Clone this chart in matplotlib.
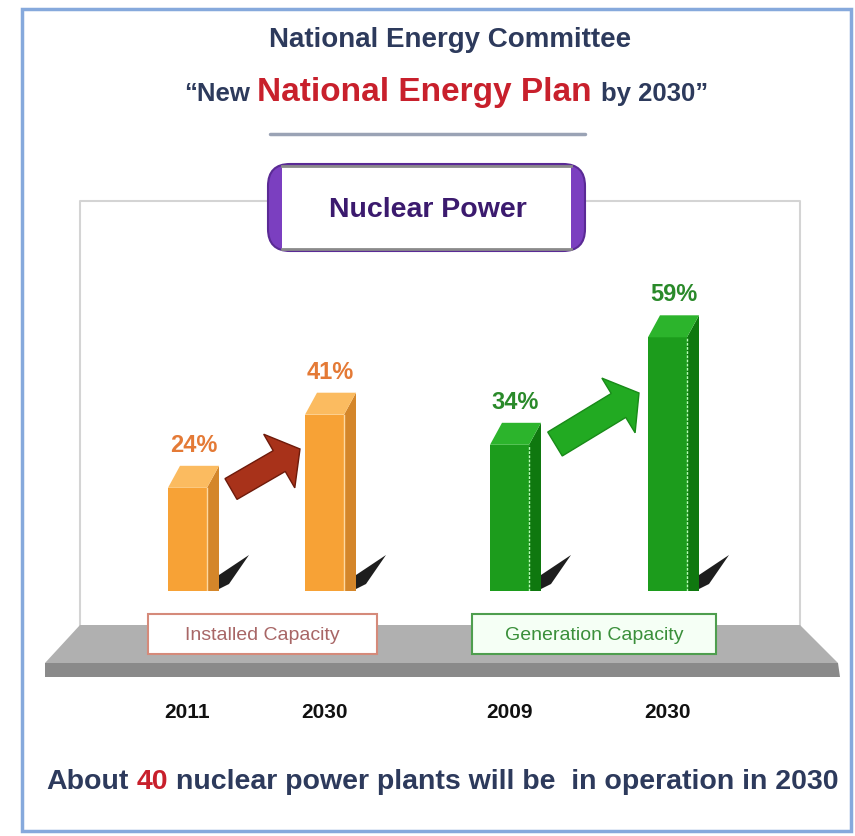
import matplotlib.pyplot as plt
from matplotlib.patches import Polygon, Rectangle, FancyBboxPatch, FancyArrow
from matplotlib import font_manager

# ---- data ----
title_top = 'National Energy Committee'
title_parts = ['\u201cNew', 'National Energy Plan', 'by 2030\u201d']
panel_title = 'Nuclear Power'
groups = ['Installed Capacity', 'Generation Capacity']
years = ['2011', '2030', '2009', '2030']
shares = [24, 41, 34, 59]
footer_parts = ['About', '40', 'nuclear power plants will be  in operation in 2030']

W, H = 855, 837
names = {f.name for f in font_manager.fontManager.ttflist}
FONT = [f for f in ['Liberation Sans Narrow', 'Liberation Sans', 'DejaVu Sans'] if f in names]

NAVY = '#2d3a5c'
RED = '#c8202c'

fig = plt.figure(figsize=(W / 100, H / 100), dpi=100)
bg = fig.add_axes([0, 0, 1, 1])
bg.set_xlim(0, W)
bg.set_ylim(H, 0)
bg.axis('off')
renderer = fig.canvas.get_renderer()


def text_width(s, size):
    a = bg.text(0, 0, '|' + s + '|', fontsize=size, fontweight='bold', family=FONT)
    b = bg.text(0, 0, '||', fontsize=size, fontweight='bold', family=FONT)
    w = a.get_window_extent(renderer).width - b.get_window_extent(renderer).width
    a.remove()
    b.remove()
    return w


def line_of_parts(parts, colors, sizes, cx, y, gap=' '):
    # several coloured pieces on one baseline, centred on cx
    widths = [text_width(p, s) for p, s in zip(parts, sizes)]
    spaces = [text_width(gap, s) for s in sizes]
    total = sum(widths) + sum(spaces[:-1])
    x = cx - total / 2
    for p, c, s, w, sp in zip(parts, colors, sizes, widths, spaces):
        bg.text(x, y, p, color=c, fontsize=s, fontweight='bold', family=FONT,
                ha='left', va='baseline')
        x += w + sp


# outer frame
bg.add_patch(Rectangle((22, 10), 829, 822, fill=False, ec='#86a9dc', lw=2.5))

# titles
bg.text(450, 47, title_top, color=NAVY, fontsize=20, fontweight='bold',
        family=FONT, ha='center', va='baseline')
line_of_parts(title_parts, [NAVY, RED, NAVY], [18.5, 24, 18.5], 446, 101)
bg.plot([270, 585], [135, 135], color='#9aa3b5', lw=2.5, solid_capstyle='round')

# panel and platform
bg.plot([80, 80, 800, 800], [626, 202, 202, 626], color='#d4d4d4', lw=1.5, zorder=1)
bg.add_patch(Polygon([(80, 626), (800, 626), (838, 664), (45, 664)],
                     closed=True, fc='#b0b0b0', ec='none'))
bg.add_patch(Polygon([(45, 664), (838, 664), (840, 678), (45, 678)],
                     closed=True, fc='#8a8a8a', ec='none'))

# pill with the panel title
bg.add_patch(FancyBboxPatch((268, 165), 317, 87, boxstyle='round,pad=0,rounding_size=22',
                            fc='#7b3fc0', ec='#5a2a95', lw=1.5, zorder=3))
bg.add_patch(Rectangle((282, 167), 289, 83, fc='white', ec='none', zorder=3))
bg.plot([282, 571], [167, 167], color='#8a8a8a', lw=2, zorder=4)
bg.plot([282, 571], [250, 250], color='#8a8a8a', lw=2, zorder=4)
bg.text(428, 210, panel_title, color='#3b1a6e', fontsize=20.5, fontweight='bold',
        family=FONT, ha='center', va='center', zorder=5)

# group label boxes
box_x = [(148, 377), (472, 716)]
box_ec = ['#d58a7a', '#4e9e4e']
box_fc = ['white', '#f5fff5']
box_tc = ['#a86666', '#3a8f3a']
for (x0, x1), name, ec, fc, tc in zip(box_x, groups, box_ec, box_fc, box_tc):
    bg.add_patch(Rectangle((x0, 615), x1 - x0, 40, fc=fc, ec=ec, lw=1.5))
    bg.text((x0 + x1) / 2, 636, name, color=tc, fontsize=14, family=FONT,
            ha='center', va='center')

# ---- bars ----
BASE = 592          # pixel row of zero
PX = 4.3            # pixels per percent
TOP = 200
ax = fig.add_axes([0, (H - BASE) / H, 1, (BASE - TOP) / H])
ax.set_xlim(0, W)
ax.set_ylim(0, (BASE - TOP) / PX)
ax.axis('off')

bar_left = [168, 305, 490, 648]
bar_w = 39
dx = 12
dy = 22 / PX
front = ['#f7a236', '#f7a236', '#1c9c1c', '#1c9c1c']
side = ['#d4862a', '#d4862a', '#0f780f', '#0f780f']
topc = ['#fbbb60', '#fbbb60', '#2cb42c', '#2cb42c']
label_c = ['#e47a36', '#e47a36', '#2a8a2a', '#2a8a2a']

# shadows at the foot of each bar
for x in bar_left:
    xs = x + bar_w + dx
    bg.add_patch(Polygon([(xs, 590), (xs, 576), (xs + 30, 556), (xs + 10, 585)],
                         closed=True, fc='#1e1e1e', ec='none'))

ax.bar(bar_left, shares, width=bar_w, align='edge', color=front, zorder=3)
for i, (x, v) in enumerate(zip(bar_left, shares)):
    xr = x + bar_w
    ax.add_patch(Polygon([(xr, 0), (xr + dx, 0), (xr + dx, v + dy), (xr, v)],
                         closed=True, fc=side[i], ec='none', zorder=3))
    ax.add_patch(Polygon([(x, v), (x + dx, v + dy), (xr + dx, v + dy), (xr, v)],
                         closed=True, fc=topc[i], ec='none', zorder=3))
    if i >= 2:
        ax.plot([xr, xr], [0, v], color='#b8ffb8', lw=1, ls=(0, (2, 1)), zorder=4)
    else:
        ax.plot([xr, xr], [0, v], color='#fdd8a0', lw=1, zorder=4)
    ax.annotate(f'{v}%', xy=(x + (bar_w + dx) / 2, v + dy), xytext=(0, 10),
                textcoords='offset pixels', ha='center', va='bottom',
                color=label_c[i], fontsize=17, fontweight='bold', family=FONT)
    bg.text(x + bar_w / 2, 712, years[i], color='#111111', fontsize=15,
            fontweight='bold', family=FONT, ha='center', va='center')

# growth arrows
bg.add_patch(FancyArrow(231, 490, 69, -40, width=24, head_width=62, head_length=24,
                        length_includes_head=True, fc='#a8321a', ec='#6e1a0a', lw=1))
bg.add_patch(FancyArrow(555, 445, 84, -51, width=28, head_width=64, head_length=24,
                        length_includes_head=True, fc='#22aa22', ec='#188a18', lw=1))

# footer
line_of_parts(footer_parts, [NAVY, RED, NAVY], [20.5, 20.5, 20.5], 442, 789)

fig.savefig('out.png', dpi=100)
